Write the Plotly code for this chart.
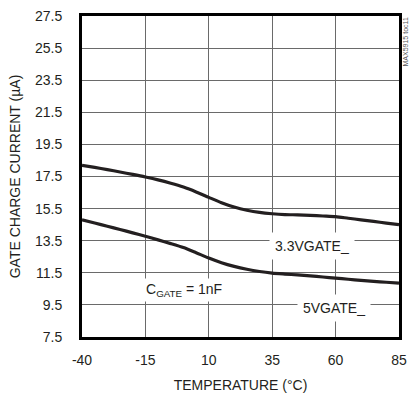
import plotly.graph_objects as go

# Temperature sweep (°C) and gate charge current (µA) for each gate supply
temperature = [-40, -35, -30, -25, -20, -15, -10, -5, 0, 5, 10, 15, 20,
               25, 30, 35, 40, 45, 50, 55, 60, 65, 70, 75, 80, 85]
current_3v3 = [18.2, 18.07, 17.93, 17.78, 17.63, 17.47, 17.29, 17.08, 16.84, 16.54,
               16.2, 15.87, 15.6, 15.4, 15.26, 15.18, 15.13, 15.11, 15.08, 15.04,
               15.0, 14.9, 14.8, 14.7, 14.6, 14.5]
current_5v = [14.8, 14.6, 14.4, 14.2, 13.99, 13.78, 13.55, 13.32, 13.07, 12.75,
              12.42, 12.13, 11.9, 11.72, 11.58, 11.48, 11.42, 11.37, 11.31, 11.24,
              11.17, 11.1, 11.03, 10.97, 10.91, 10.86]

x_ticks = [-40, -15, 10, 35, 60, 85]
y_ticks = [7.5, 9.5, 11.5, 13.5, 15.5, 17.5, 19.5, 21.5, 23.5, 25.5, 27.5]

FONT = "Liberation Sans, Arial, sans-serif"
INK = "#231f20"

fig = go.Figure()
for y in (current_3v3, current_5v):
    fig.add_trace(go.Scatter(
        x=temperature, y=y, mode="lines",
        line=dict(color=INK, width=3.2, shape="spline", smoothing=0.7),
        showlegend=False, hoverinfo="skip",
    ))

label_font = dict(family=FONT, size=14, color=INK)
fig.add_annotation(x=50.8, y=13.15, text="3.3VGATE_", showarrow=False,
                   xanchor="center", yanchor="middle", bgcolor="white",
                   borderpad=5, font=label_font)
fig.add_annotation(x=59.5, y=9.3, text="5VGATE_", showarrow=False,
                   xanchor="center", yanchor="middle", bgcolor="white",
                   borderpad=5, font=label_font)
fig.add_annotation(x=-16, y=10.4, text="C<sub>GATE</sub> = 1nF", showarrow=False,
                   xanchor="left", yanchor="middle", bgcolor="white",
                   borderpad=2, font=label_font)
fig.add_annotation(x=1.0, xref="paper", xshift=6, y=1.0, yref="paper",
                   text="MAX5915 toc11", textangle=-90, showarrow=False,
                   xanchor="center", yanchor="top",
                   font=dict(family=FONT, size=7, color="#555"))

axis_common = dict(
    showline=True, linecolor="black", linewidth=3, mirror=True,
    showgrid=True, gridcolor="#6a6a6a", gridwidth=1.4,
    zeroline=False, ticks="", tickfont=dict(family=FONT, size=14, color=INK),
)
fig.update_xaxes(range=[-40, 85], tickvals=x_ticks, ticktext=[str(v) for v in x_ticks],
                 ticklabelstandoff=8,
                 title=dict(text="TEMPERATURE (°C)", font=dict(family=FONT, size=14, color=INK),
                            standoff=14),
                 **axis_common)
fig.update_yaxes(range=[7.5, 27.5], tickvals=y_ticks, ticktext=[f"{v:.1f}" for v in y_ticks],
                 ticklabelstandoff=14,
                 title=dict(text="GATE CHARGE CURRENT (µA)", font=dict(family=FONT, size=14, color=INK),
                            standoff=12),
                 **axis_common)

fig.update_layout(
    width=415, height=400,
    margin=dict(l=82, r=8, t=12, b=63),
    paper_bgcolor="white", plot_bgcolor="white",
)

fig.write_html("out.html")
